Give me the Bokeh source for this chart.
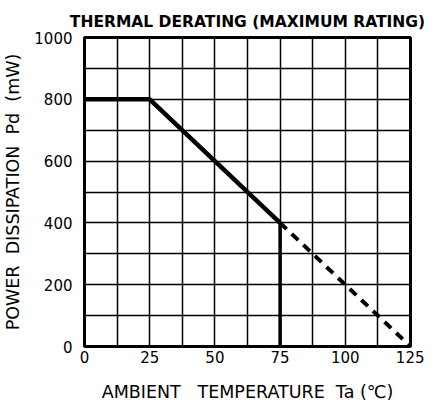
from bokeh.plotting import figure
from bokeh.models import Range1d, FixedTicker
from bokeh.embed import file_html
from bokeh.resources import INLINE

# Data
derate_x = [0, 25, 75]
derate_y = [800, 800, 400]
cutoff_x = [75, 75]
cutoff_y = [400, 0]
ext_x = [75, 125]
ext_y = [400, 0]

x_ticks = [0, 25, 50, 75, 100, 125]
x_minor = [12.5, 37.5, 62.5, 87.5, 112.5]
y_ticks = [0, 200, 400, 600, 800, 1000]
y_minor = [100, 300, 500, 700, 900]

NB = "\u00a0"

p = figure(width=424, height=406, output_backend="svg", toolbar_location=None,
           x_range=Range1d(0, 125), y_range=Range1d(0, 1000),
           min_border_left=83, min_border_right=14, min_border_top=37, min_border_bottom=60,
           title="THERMAL DERATING (MAXIMUM RATING)")

p.title.text_font = "DejaVu Sans"
p.title.text_font_style = "bold"
p.title.text_font_size = "15.5px"
p.title.align = "center"
p.title.standoff = 13
p.title.text_color = "black"

p.outline_line_color = "black"
p.outline_line_width = 3
p.outline_line_alpha = 1
p.background_fill_color = "white"
p.border_fill_color = "white"

p.xaxis.ticker = FixedTicker(ticks=x_ticks, minor_ticks=x_minor)
p.yaxis.ticker = FixedTicker(ticks=y_ticks, minor_ticks=y_minor)

for ax in (p.xaxis, p.yaxis):
    ax.axis_line_color = None
    ax.major_tick_line_color = None
    ax.minor_tick_line_color = None
    ax.major_tick_out = 0
    ax.minor_tick_out = 0
    ax.major_tick_in = 0
    ax.minor_tick_in = 0
    ax.major_label_text_font = "DejaVu Sans"
    ax.major_label_text_font_size = "15px"
    ax.major_label_text_color = "black"
    ax.axis_label_text_font = "DejaVu Sans"
    ax.axis_label_text_font_size = "17.5px"
    ax.axis_label_text_font_style = "normal"
    ax.axis_label_text_color = "black"

p.xaxis.major_label_standoff = 4
p.yaxis.major_label_standoff = 12
p.xaxis.axis_label = "AMBIENT" + NB * 3 + "TEMPERATURE" + NB * 2 + "Ta" + NB + "(\u2103)"
p.yaxis.axis_label = "POWER" + NB * 2 + "DISSIPATION" + NB * 2 + "Pd" + NB * 2 + "(mW)"
p.xaxis.axis_label_standoff = 16
p.yaxis.axis_label_standoff = 8

for g in (p.xgrid, p.ygrid):
    g.grid_line_color = "black"
    g.grid_line_width = 1.5
    g.grid_line_alpha = 1
    g.minor_grid_line_color = "black"
    g.minor_grid_line_width = 1.5
    g.minor_grid_line_alpha = 1

p.line(derate_x, derate_y, line_color="black", line_width=4.5)
p.line(cutoff_x, cutoff_y, line_color="black", line_width=3.5)
p.line(ext_x, ext_y, line_color="black", line_width=4, line_dash="9 7")

open("out.html", "w").write(file_html(p, INLINE))
